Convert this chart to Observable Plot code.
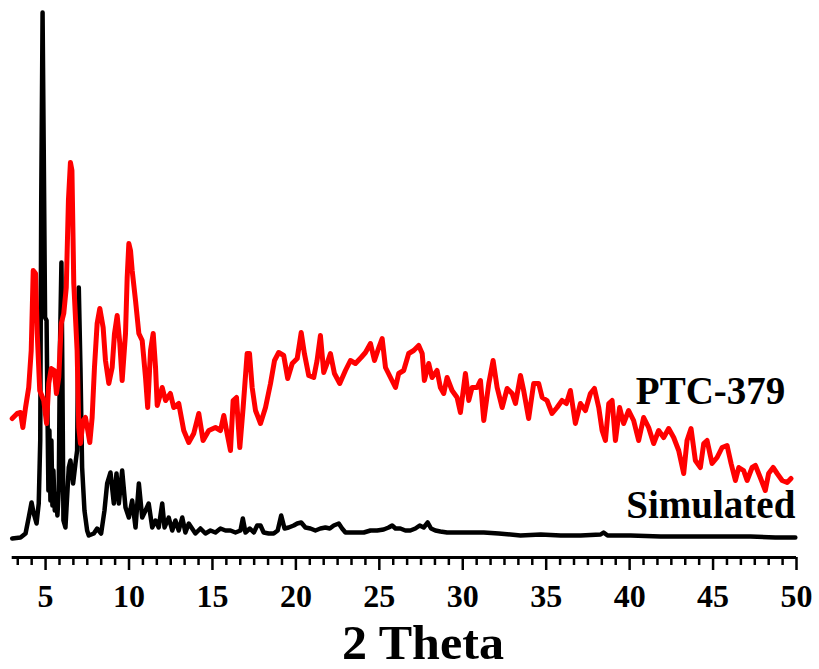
<!DOCTYPE html>
<html><head><meta charset="utf-8">
<script src="https://cdn.jsdelivr.net/npm/d3@7"></script>
<script src="https://cdn.jsdelivr.net/npm/@observablehq/plot@0.6"></script>
<style>html,body{margin:0;padding:0;background:#fff}</style>
</head><body><div id="chart"></div>
<script>
// PTC-379 experimental pattern (2θ, intensity a.u. incl. offset)
const twoThetaPTC = [3.00,3.30,3.50,3.64,3.80,3.99,4.14,4.26,4.40,4.50,
4.65,4.89,5.06,5.19,5.34,5.53,5.65,5.79,5.94,6.09,
6.24,6.37,6.49,6.58,6.69,6.89,6.99,7.09,7.25,7.39,
7.53,7.65,7.79,7.93,8.09,8.25,8.45,8.59,8.79,8.99,
9.13,9.29,9.45,9.59,9.79,9.89,9.99,10.09,10.19,10.39,
10.59,10.79,10.99,11.12,11.29,11.45,11.59,11.69,11.99,12.19,
12.48,12.68,12.98,13.28,13.58,13.88,14.18,14.44,14.78,15.18,
15.48,15.68,15.88,16.08,16.24,16.44,16.64,16.84,17.08,17.22,
17.38,17.58,17.88,18.18,18.48,18.72,18.97,19.27,19.51,19.78,
20.08,20.32,20.51,20.77,21.07,21.27,21.47,21.67,21.87,22.07,
22.31,22.63,22.97,23.27,23.57,23.91,24.17,24.47,24.71,24.97,
25.17,25.37,25.67,25.97,26.16,26.46,26.76,27.06,27.36,27.57,
27.70,27.96,28.16,28.46,28.66,28.86,29.06,29.36,29.66,29.86,
30.16,30.36,30.56,30.86,31.06,31.26,31.56,31.82,32.06,32.36,
32.66,32.96,33.16,33.46,33.65,33.95,34.25,34.55,34.76,35.05,
35.35,35.65,35.95,36.21,36.45,36.75,37.05,37.35,37.65,37.89,
38.15,38.35,38.55,38.75,38.95,39.15,39.40,39.64,39.94,40.24,
40.54,40.84,41.14,41.44,41.74,42.04,42.34,42.64,42.94,43.24,
43.44,43.68,43.94,44.24,44.44,44.64,44.94,45.24,45.54,45.84,
46.08,46.34,46.54,46.83,47.04,47.34,47.54,47.83,48.13,48.33,
48.60,48.84,49.14,49.44,49.67];
const intensityPTC = [139,144,145,130,150,170,207,287,284,224,
167,157,134,174,189,187,164,180,234,244,
270,357,395,387,274,207,130,114,137,140,
127,115,140,190,234,249,230,197,174,190,
224,242,214,177,224,280,314,307,287,257,
224,217,180,150,207,224,190,152,170,157,
164,150,154,127,115,124,144,117,127,130,
127,142,124,107,157,160,110,150,204,204,
170,147,134,150,174,197,205,202,179,194,
199,225,204,182,180,197,222,185,194,204,
184,174,187,197,194,200,205,214,197,210,
219,190,180,170,184,187,204,207,212,204,
177,194,180,187,170,164,180,167,160,145,
184,157,170,170,177,137,174,197,170,150,
169,164,154,182,167,139,174,174,160,157,
144,150,157,154,167,134,154,147,164,169,
150,127,117,154,157,117,150,134,147,137,
117,140,130,114,127,120,129,120,107,84,
117,129,97,90,114,117,94,100,110,112,
94,77,90,87,77,90,92,80,67,84,
90,84,77,75,79];

// Simulated pattern
const twoThetaSim = [3.00,3.50,3.80,3.99,4.16,4.29,4.46,4.59,4.68,4.74,
4.82,4.89,4.97,5.06,5.12,5.17,5.23,5.29,5.35,5.41,
5.47,5.55,5.62,5.71,5.79,5.86,5.95,6.01,6.07,6.19,
6.28,6.39,6.49,6.65,6.79,6.89,6.99,7.09,7.19,7.33,
7.49,7.59,7.89,8.09,8.33,8.53,8.69,8.89,9.09,9.25,
9.39,9.59,9.79,9.99,10.19,10.39,10.59,10.79,10.99,11.18,
11.39,11.59,11.78,11.99,12.13,12.38,12.59,12.78,12.98,13.19,
13.38,13.58,13.98,14.28,14.58,14.88,15.18,15.48,15.78,16.08,
16.38,16.68,16.82,16.98,17.24,17.48,17.68,17.88,18.07,18.37,
18.67,18.91,19.12,19.32,19.57,19.87,20.08,20.32,20.57,20.87,
21.17,21.47,21.77,22.03,22.27,22.57,22.77,22.97,23.27,23.67,
24.07,24.47,24.87,25.26,25.56,25.77,25.97,26.26,26.56,26.86,
27.16,27.42,27.66,27.90,28.10,28.36,28.66,29.06,29.66,30.46,
31.26,32.16,33.46,34.67,35.87,37.07,38.26,38.44,38.68,40.06,
41.86,43.64,45.44,47.24,48.73,49.93];
const intensitySim = [19,20,24,40,55,44,34,54,117,357,
545,407,240,237,137,67,127,57,117,52,
87,47,62,42,67,207,295,177,37,30,
57,90,97,74,94,107,270,190,90,47,
27,22,24,29,24,47,74,85,54,84,
54,87,50,40,57,30,74,40,47,54,
30,37,30,54,30,40,27,37,27,40,
25,34,24,29,24,27,25,29,27,27,
25,27,39,25,29,25,32,32,25,24,
24,27,42,29,30,32,34,35,30,29,
27,29,30,29,32,34,29,25,25,25,
25,27,27,28,30,32,29,29,27,27,
29,32,30,35,29,27,26,25,25,25,
25,24,22,23,22,22,23,25,22,22,
21,21,21,21,20,20];

const majorTicks = [5,10,15,20,25,30,35,40,45,50];
const minorTicks = d3.range(-2, 55).filter(k => k % 6 !== 0).map(k => 5 + k * 5 / 6).filter(v => v >= 3 && v <= 50.01);
const seriesNames = ["PTC-379", "Simulated"];
const xLabel = "2 Theta";

const ptc = twoThetaPTC.map((x, i) => ({x, y: intensityPTC[i]}));
const sim = twoThetaSim.map((x, i) => ({x, y: intensitySim[i]}));
const font = "'Liberation Serif','Times New Roman',serif";

const chart = Plot.plot({
  width: 819,
  height: 669,
  marginLeft: 11.7,
  marginRight: 23,
  marginTop: 0,
  marginBottom: 112,
  x: {domain: [3, 50]},
  y: {domain: [0, 557], axis: null},
  style: {background: "#fff", fontFamily: font, color: "#000"},
  marks: [
    Plot.lineY(sim, {x: "x", y: "y", stroke: "#000", strokeWidth: 4.5, strokeLinejoin: "round"}),
    Plot.lineY(ptc, {x: "x", y: "y", stroke: "#ff0000", strokeWidth: 5, strokeLinejoin: "round"}),
    Plot.axisX({ticks: minorTicks, tickSize: 8, strokeWidth: 2.5, tickFormat: () => "", label: null}),
    Plot.axisX({ticks: majorTicks, tickSize: 13, strokeWidth: 2.5, tickPadding: 14, fontSize: 32, fontWeight: "bold", fontFamily: font, label: null}),
    Plot.ruleY([0], {stroke: "#000", strokeWidth: 3}),
    Plot.text([seriesNames[0]], {x: 49.33, y: 154, text: d => d, textAnchor: "end", lineAnchor: "bottom", fontSize: 39, fontWeight: "bold", fontFamily: font, fill: "#000"}),
    Plot.text([seriesNames[1]], {x: 49.93, y: 40, text: d => d, textAnchor: "end", lineAnchor: "bottom", fontSize: 39, fontWeight: "bold", fontFamily: font, fill: "#000"}),
    Plot.text([xLabel], {frameAnchor: "bottom", dx: 18.6, dy: 101, text: d => d, lineAnchor: "bottom", fontSize: 49, fontWeight: "bold", fontFamily: font, fill: "#000", className: "xlabel"})
  ]
});
d3.select(chart).selectAll(".xlabel text").attr("textLength", 162).attr("lengthAdjust", "spacingAndGlyphs");
document.getElementById("chart").appendChild(chart);
</script>
</body></html>
